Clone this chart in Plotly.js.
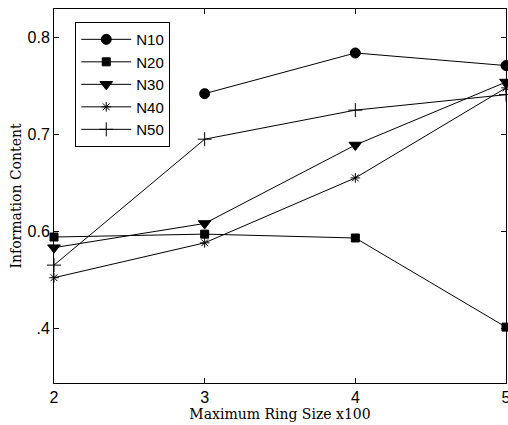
<!DOCTYPE html>
<html>
<head>
<meta charset="utf-8">
<script src="https://cdn.plot.ly/plotly-3.0.1.min.js"></script>
<style>html,body{margin:0;padding:0;background:#fff;}</style>
</head>
<body>
<div id="chart" style="width:508px;height:425px;"></div>
<script>
const ringSize = [2, 3, 4, 5];
const N10 = [null, 0.742, 0.784, 0.771];
const N20 = [0.594, 0.597, 0.593, 0.501];
const N30 = [0.583, 0.608, 0.689, 0.754];
const N40 = [0.552, 0.588, 0.655, 0.748];
const N50 = [0.565, 0.695, 0.725, 0.741];
const yTickVals = [0.5, 0.6, 0.7, 0.8];
const yTickText = [".4", "0.6", "0.7", "0.8"];
const xTickVals = [2, 3, 4, 5];
const xTickText = ["2", "3", "4", "5"];

function tr(name, y, symbol, size) {
  return {
    x: ringSize, y: y, name: name, type: 'scatter', mode: 'lines+markers',
    connectgaps: false, cliponaxis: false,
    line: {color: '#000', width: 1},
    marker: {symbol: symbol, size: size, color: '#000', line: {color: '#000', width: 1}}
  };
}
const data = [
  tr('N10', N10, 'circle', 10),
  tr('N20', N20, 'square', 8),
  tr('N30', N30, 'triangle-down', 11),
  tr('N40', N40, 'asterisk-open', 8),
  tr('N50', N50, 'cross-thin-open', 10)
];
const tickFont = {family: 'Liberation Sans, Arial, sans-serif', size: 16, color: '#000'};
const titleFont = {family: 'DejaVu Serif, Liberation Serif, serif', size: 14, color: '#000'};
const layout = {
  width: 508, height: 425,
  margin: {l: 54, r: 2, t: 9, b: 42},
  paper_bgcolor: '#fff', plot_bgcolor: '#fff',
  showlegend: true,
  legend: {
    x: 0.047, y: 0.965, xanchor: 'left', yanchor: 'top',
    bgcolor: '#fff', bordercolor: '#000', borderwidth: 1,
    font: {family: 'Liberation Sans, Arial, sans-serif', size: 15, color: '#000'},
    tracegroupgap: 0, itemwidth: 50
  },
  xaxis: {
    range: [2, 5], tickmode: 'array', tickvals: xTickVals, ticktext: xTickText,
    ticks: 'inside', ticklen: 5, tickcolor: '#000', mirror: 'allticks',
    showline: true, linecolor: '#000', linewidth: 1, showgrid: false, zeroline: false,
    ticklabeloverflow: 'allow',
    tickfont: tickFont,
    title: {text: 'Maximum Ring Size x100', standoff: 2, font: titleFont}
  },
  yaxis: {
    range: [0.4433, 0.8294], tickmode: 'array', tickvals: yTickVals, ticktext: yTickText,
    ticks: 'inside', ticklen: 5, tickcolor: '#000', mirror: 'allticks',
    showline: true, linecolor: '#000', linewidth: 1, showgrid: false, zeroline: false,
    ticklabeloverflow: 'allow',
    tickfont: tickFont,
    title: {text: 'Information Content', standoff: 2, font: titleFont}
  }
};
Plotly.newPlot('chart', data, layout, {displayModeBar: false, staticPlot: true});
</script>
</body>
</html>
